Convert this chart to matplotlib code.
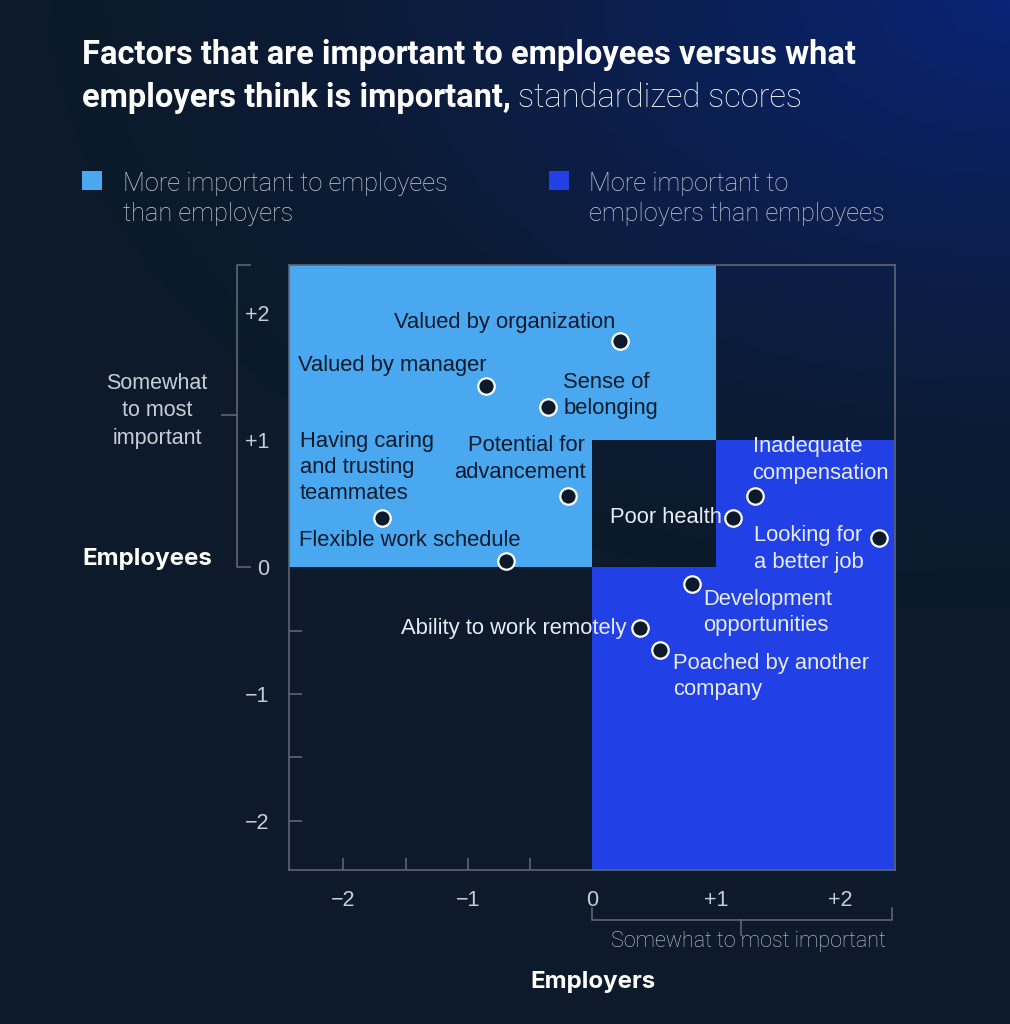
import numpy as np
import matplotlib
matplotlib.use("Agg")
import matplotlib.pyplot as plt
from matplotlib.patches import Rectangle
from matplotlib.transforms import blended_transform_factory

# data
labels = ["Valued by organization", "Valued by manager", "Sense of\nbelonging",
          "Potential for\nadvancement", "Having caring\nand trusting\nteammates",
          "Flexible work schedule", "Inadequate\ncompensation", "Poor health",
          "Looking for\na better job", "Development\nopportunities",
          "Ability to work remotely", "Poached by another\ncompany"]
employers = [0.23, -0.85, -0.35, -0.19, -1.69, -0.69, 1.31, 1.14, 2.31, 0.81, 0.39, 0.55]
employees = [1.78, 1.43, 1.26, 0.56, 0.39, 0.05, 0.56, 0.39, 0.23, -0.13, -0.48, -0.65]
ticks = [-2, -1, 0, 1, 2]
tick_labels = ["\u22122", "\u22121", "0", "+1", "+2"]
minor_ticks = [-2, -1.5, -1, -0.5]

# label placement (pixel offsets, alignment, dark text?)
offsets = [(-5, 19), (0, 20), (15, 12), (17, 37), (-82, 50), (14, 20),
           (-2, 36), (-12, 0), (-125, -11), (11, -29), (-14, 0), (13, -27)]
aligns = ["right", "right", "left", "right", "left", "right",
          "left", "right", "left", "left", "right", "left"]
dark_text = [True] * 6 + [False] * 6

BG = "#0c1a2b"
LIGHT = "#4aa8f0"
DARK = "#2140e6"
GREY = "#c9ced6"
SPINE = "#5d6672"

fig = plt.figure(figsize=(10.1, 10.24), dpi=100)
fig.patch.set_facecolor(BG)

# background gradient (blue glow in top right)
bg = fig.add_axes([0, 0, 1, 1], zorder=-10)
gx, gy = np.meshgrid(np.linspace(0, 1, 300), np.linspace(1, 0, 300))
d = np.sqrt(((1 - gx) * 1.0) ** 2 + ((1 - gy) * 1.6) ** 2)
w = np.clip(1 - d / 0.95, 0, 1) ** 1.5
c0 = np.array([12, 26, 43]) / 255
c1 = np.array([10, 36, 118]) / 255
img = c0[None, None, :] * (1 - w[..., None]) + c1[None, None, :] * w[..., None]
bg.imshow(img, extent=[0, 1, 0, 1], aspect="auto")
bg.axis("off")

ax = fig.add_axes([0.286, 0.150, 0.600, 0.591])
ax.set_facecolor("none")
ax.set_xlim(-2.44, 2.44)
ax.set_ylim(-2.39, 2.38)
ax.set_axisbelow(True)

x0, x1 = ax.get_xlim()
y0, y1 = ax.get_ylim()
# light blue region
ax.add_patch(Rectangle((x0, 1), 1 - x0, y1 - 1, color=LIGHT, lw=0, zorder=1))
ax.add_patch(Rectangle((x0, 0), 0 - x0, 1, color=LIGHT, lw=0, zorder=1))
# dark blue region
ax.add_patch(Rectangle((0, y0), x1, 0 - y0, color=DARK, lw=0, zorder=1))
ax.add_patch(Rectangle((1, 0), x1 - 1, 1, color=DARK, lw=0, zorder=1))

ax.scatter(employers, employees, s=140, facecolor=BG, edgecolor="white",
           linewidth=1.6, zorder=5)

for lab, ex, ey, off, ha, dk in zip(labels, employers, employees, offsets, aligns, dark_text):
    ax.annotate(lab, (ex, ey), xytext=off, textcoords="offset pixels",
                ha=ha, va="center", multialignment=ha, fontsize=15.8,
                linespacing=1.33, family="Liberation Sans",
                color="#0c1a2b" if dk else "#e8ecf5", zorder=6)

for s in ax.spines.values():
    s.set_color(SPINE)
    s.set_linewidth(1.2)

ax.set_xticks(ticks)
ax.set_xticklabels(tick_labels)
ax.set_yticks(ticks)
ax.set_yticklabels(tick_labels)
ax.xaxis.remove_overlapping_locs = False
ax.yaxis.remove_overlapping_locs = False
ax.set_xticks(minor_ticks, minor=True)
ax.set_yticks(minor_ticks, minor=True)
ax.tick_params(which="major", length=0, pad=14, labelsize=15.5, labelcolor=GREY)
ax.tick_params(which="minor", direction="in", length=9, color=SPINE, width=1.2)
for t in ax.get_xticklabels() + ax.get_yticklabels():
    t.set_family("Liberation Sans")

# left bracket
tr_l = blended_transform_factory(fig.transFigure, ax.transData)
bx, cap, mid = 237 / 1010, 250 / 1010, 222 / 1010
ax.plot([cap, bx, bx, cap], [y1, y1, 0, 0], color=SPINE, lw=1.2,
        transform=tr_l, clip_on=False)
ax.plot([mid, bx], [1.2, 1.2], color=SPINE, lw=1.2, transform=tr_l, clip_on=False)
fig.text(157 / 1010, 1 - 411 / 1024, "Somewhat\nto most\nimportant", ha="center",
         va="center", fontsize=15.5, color=GREY, linespacing=1.4,
         family="Liberation Sans")

# bottom bracket
tr_b = blended_transform_factory(ax.transData, fig.transFigure)
by, bcap, bmid = 1 - 920 / 1024, 1 - 908 / 1024, 1 - 935 / 1024
ax.plot([0, 0, 2.42, 2.42], [bcap, by, by, bcap], color=SPINE, lw=1.2,
        transform=tr_b, clip_on=False)
ax.plot([1.2, 1.2], [by, bmid], color=SPINE, lw=1.2, transform=tr_b, clip_on=False)
fig.text(748 / 1010, 1 - 941 / 1024, "Somewhat to most important", ha="center",
         va="center", fontsize=15.5, color=GREY, family="Roboto", fontweight="light")

fig.text(82 / 1010, 1 - 559 / 1024, "Employees", ha="left", va="center",
         fontsize=17.3, fontweight="bold", color="white", family="Inter")
fig.text(593 / 1010, 1 - 982 / 1024, "Employers", ha="center", va="center",
         fontsize=17.3, fontweight="bold", color="white", family="Inter")

# title
fig.text(82 / 1010, 1 - 55 / 1024, "Factors that are important to employees versus what",
         ha="left", va="center", fontsize=23.5, fontweight="bold", color="white",
         family="Roboto")
t1 = fig.text(82 / 1010, 1 - 98 / 1024, "employers think is important,", ha="left",
              va="center", fontsize=23.5, fontweight="bold", color="white", family="Roboto")
fig.canvas.draw()
bb = t1.get_window_extent()
fig.text(bb.x1 / 1010 + 0.007, 1 - 98 / 1024, "standardized scores", ha="left",
         va="center", fontsize=23.5, color="white", family="Roboto", fontweight="light")

# legend
fig.patches.append(Rectangle((82 / 1010, 1 - 190 / 1024), 20 / 1010, 19 / 1024,
                             transform=fig.transFigure, color=LIGHT, lw=0))
fig.patches.append(Rectangle((549 / 1010, 1 - 190 / 1024), 20 / 1010, 19 / 1024,
                             transform=fig.transFigure, color=DARK, lw=0))
fig.text(123 / 1010, 1 - 199 / 1024, "More important to employees\nthan employers",
         ha="left", va="center", fontsize=18.3, color=GREY, linespacing=1.28,
         family="Roboto", fontweight="light")
fig.text(589 / 1010, 1 - 199 / 1024, "More important to\nemployers than employees",
         ha="left", va="center", fontsize=18.3, color=GREY, linespacing=1.28,
         family="Roboto", fontweight="light")

fig.savefig("out.png", dpi=100, facecolor=BG)
